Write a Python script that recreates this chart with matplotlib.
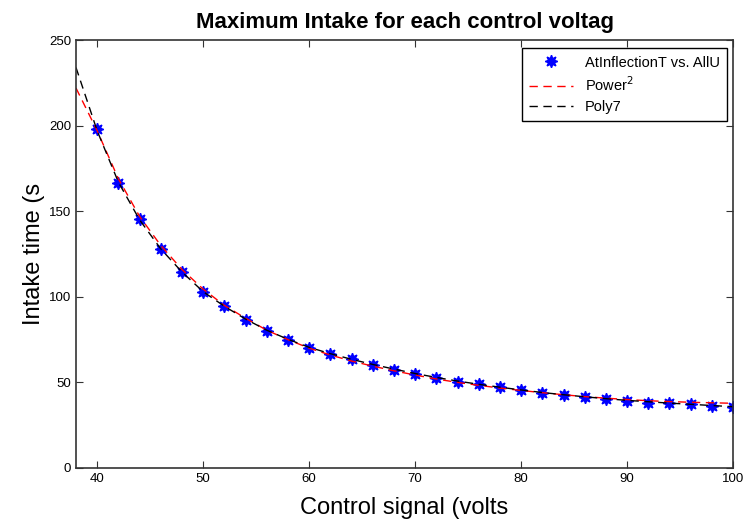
import matplotlib
matplotlib.use("Agg")
import matplotlib.pyplot as plt

# measured points
volts = [40, 42, 44, 46, 48, 50, 52, 54, 56, 58, 60, 62, 64, 66, 68, 70,
         72, 74, 76, 78, 80, 82, 84, 86, 88, 90, 92, 94, 96, 98, 100]
intake = [198, 166.5, 145.4, 128, 114.5, 102.8, 94.6, 86.4, 80, 74.8, 70,
          66.6, 63.7, 60.2, 57.2, 55, 52.6, 50.2, 49, 47.3, 45.6, 43.8,
          42.6, 41.5, 40.3, 39.1, 38, 38, 37.4, 36.2, 35.6]

# fitted curves
fit_x = [38, 40, 42, 44, 46, 48, 50, 52, 54, 56, 58, 60, 62, 64, 66, 68, 70,
         72, 74, 76, 78, 80, 82, 84, 86, 88, 90, 92, 94, 96, 98, 100]
power2 = [222, 197, 169, 147, 130, 116, 104.5, 95, 87.5, 80.5, 75, 70, 66,
          62.5, 59.5, 56.8, 54.3, 52, 50, 48.3, 46.7, 45.3, 44, 42.8, 41.7,
          40.8, 40, 39.3, 38.8, 38.4, 38.1, 37.8]
poly7 = [234, 197, 167, 145, 128, 114.5, 103, 94.5, 87, 80.5, 75.2, 70.5,
         66.8, 63.5, 60.5, 57.8, 55.2, 52.9, 50.8, 48.9, 47.2, 45.6, 44.1,
         42.8, 41.6, 40.5, 39.5, 38.7, 37.9, 37.2, 36.5, 35.8]

plt.rcParams["font.family"] = ["Liberation Sans", "DejaVu Sans"]

fig = plt.figure(figsize=(7.45, 5.25), dpi=100)
ax = fig.add_axes([0.102, 0.1086, 0.882, 0.815])

ax.plot(volts, intake, linestyle="none", marker=(8, 1, 0), markersize=9,
        color="#0000ff", label="AtInflectionT vs. AllU")
ax.plot(fit_x, power2, color="red", linestyle=(0, (6, 4)), linewidth=1,
        label="Power$^2$")
ax.plot(fit_x, poly7, color="black", linestyle=(0, (6, 4)), linewidth=1,
        label="Poly7")

ax.set_xlim(38, 100)
ax.set_ylim(0, 250)
ax.set_xticks([40, 50, 60, 70, 80, 90, 100])
ax.set_yticks([0, 50, 100, 150, 200, 250])
ax.tick_params(direction="in", top=True, right=True, labelsize=9.5,
               length=5, color="#333333")
for s in ax.spines.values():
    s.set_color("#333333")
    s.set_linewidth(1.2)

ax.set_title("Maximum Intake for each control voltag", fontsize=16,
             fontweight="bold", pad=9)
ax.set_xlabel("Control signal (volts", fontsize=17, labelpad=9)
ax.set_ylabel("Intake time (s", fontsize=17, labelpad=3)

leg = ax.legend(loc="upper right", fontsize=10.5, fancybox=False,
                framealpha=1, edgecolor="black", handlelength=3,
                borderpad=0.5, labelspacing=0.4,
                bbox_to_anchor=(1.002, 0.998))
leg.get_frame().set_linewidth(1)

fig.savefig("out.png", dpi=100)
